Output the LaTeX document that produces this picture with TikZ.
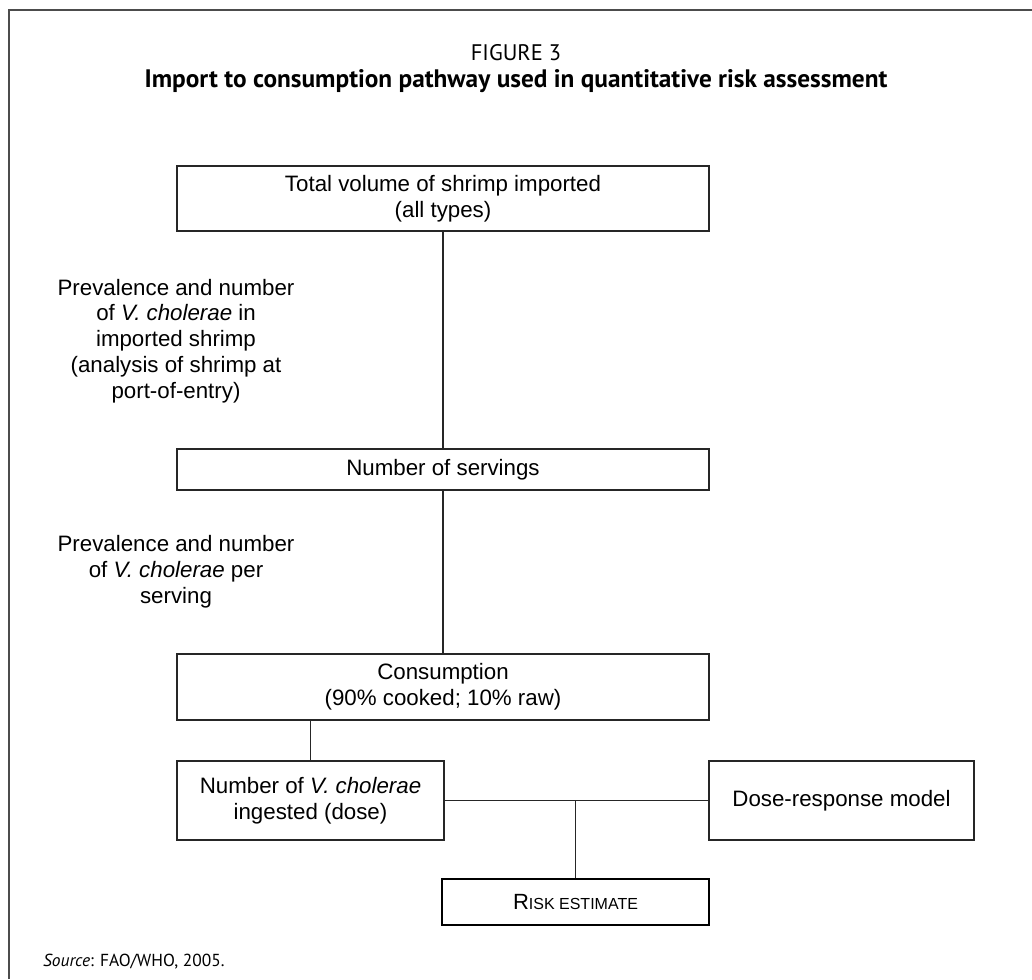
\documentclass[tikz,border=0pt]{standalone}
\usepackage{fontspec}
\setmainfont{Liberation Sans}
\newfontfamily\capfont{PT Sans}
\tikzset{
  box/.style={draw=black!85, line width=1.5pt, rectangle, inner sep=0pt, align=center,
    font=\fontsize{22.3}{25.8}\selectfont},
  lbl/.style={align=center, inner sep=0pt, font=\fontsize{22.3}{25.8}\selectfont},
  link/.style={draw=black!85, line width=1.5pt},
}
\begin{document}
\begin{tikzpicture}[x=1pt,y=-1pt]
\useasboundingbox (0,0) rectangle (1032,979);
\fill[white] (0,0) rectangle (1032,979);
% frame
\draw[black!70, line width=2pt] (9,979) -- (9,10) -- (1032,10);
% titles
\node[inner sep=0pt, font=\capfont\fontsize{22.5}{26}\selectfont] (fig) at (516,53) {FIGURE 3};
\node[inner sep=0pt, font=\capfont\bfseries\fontsize{25.3}{29}\selectfont] (title) at (516,81) {Import to consumption pathway used in quantitative risk assessment};
% boxes
\node[box, minimum width=532, minimum height=65] (vol) at (443,198.5) {Total volume of shrimp imported\\(all types)};
\node[box, minimum width=532, minimum height=41] (serv) at (443,469.5) {Number of servings};
\node[box, minimum width=532, minimum height=66] (cons) at (443,687) {Consumption\\(90\% cooked; 10\% raw)};
\node[box, minimum width=267, minimum height=79] (dose) at (310.5,800.5) {Number of \textit{V. cholerae}\\ingested (dose)};
\node[box, minimum width=265, minimum height=79] (dr) at (841.5,800.5) {Dose-response model};
\node[box, draw=black, line width=2.6pt, minimum width=267, minimum height=46, font=\fontsize{22}{24}\selectfont] (risk) at (575.5,902) {R{\fontsize{16}{18}\selectfont ISK ESTIMATE}};
% side labels
\node[lbl] (lab1) at (176,341) {Prevalence and number\\of \textit{V. cholerae} in\\imported shrimp\\(analysis of shrimp at\\port-of-entry)};
\node[lbl] (lab2) at (176,572) {Prevalence and number\\of \textit{V. cholerae} per\\serving};
% connectors
\draw[link] (vol.south) -- (serv.north);
\draw[link] (serv.south) -- (cons.north);
\draw[link] (dose.north) -- (dose.north |- cons.south);
\draw[link] (dose.east) -- (dr.west);
\coordinate (j) at (risk.north |- dose.east);
\draw[link] (j) -- (risk.north);
% source
\node[anchor=west, inner sep=0pt, font=\capfont\fontsize{17.4}{20}\selectfont] (src) at (43,962) {\textit{Source}: FAO/WHO, 2005.};
\end{tikzpicture}
\end{document}
